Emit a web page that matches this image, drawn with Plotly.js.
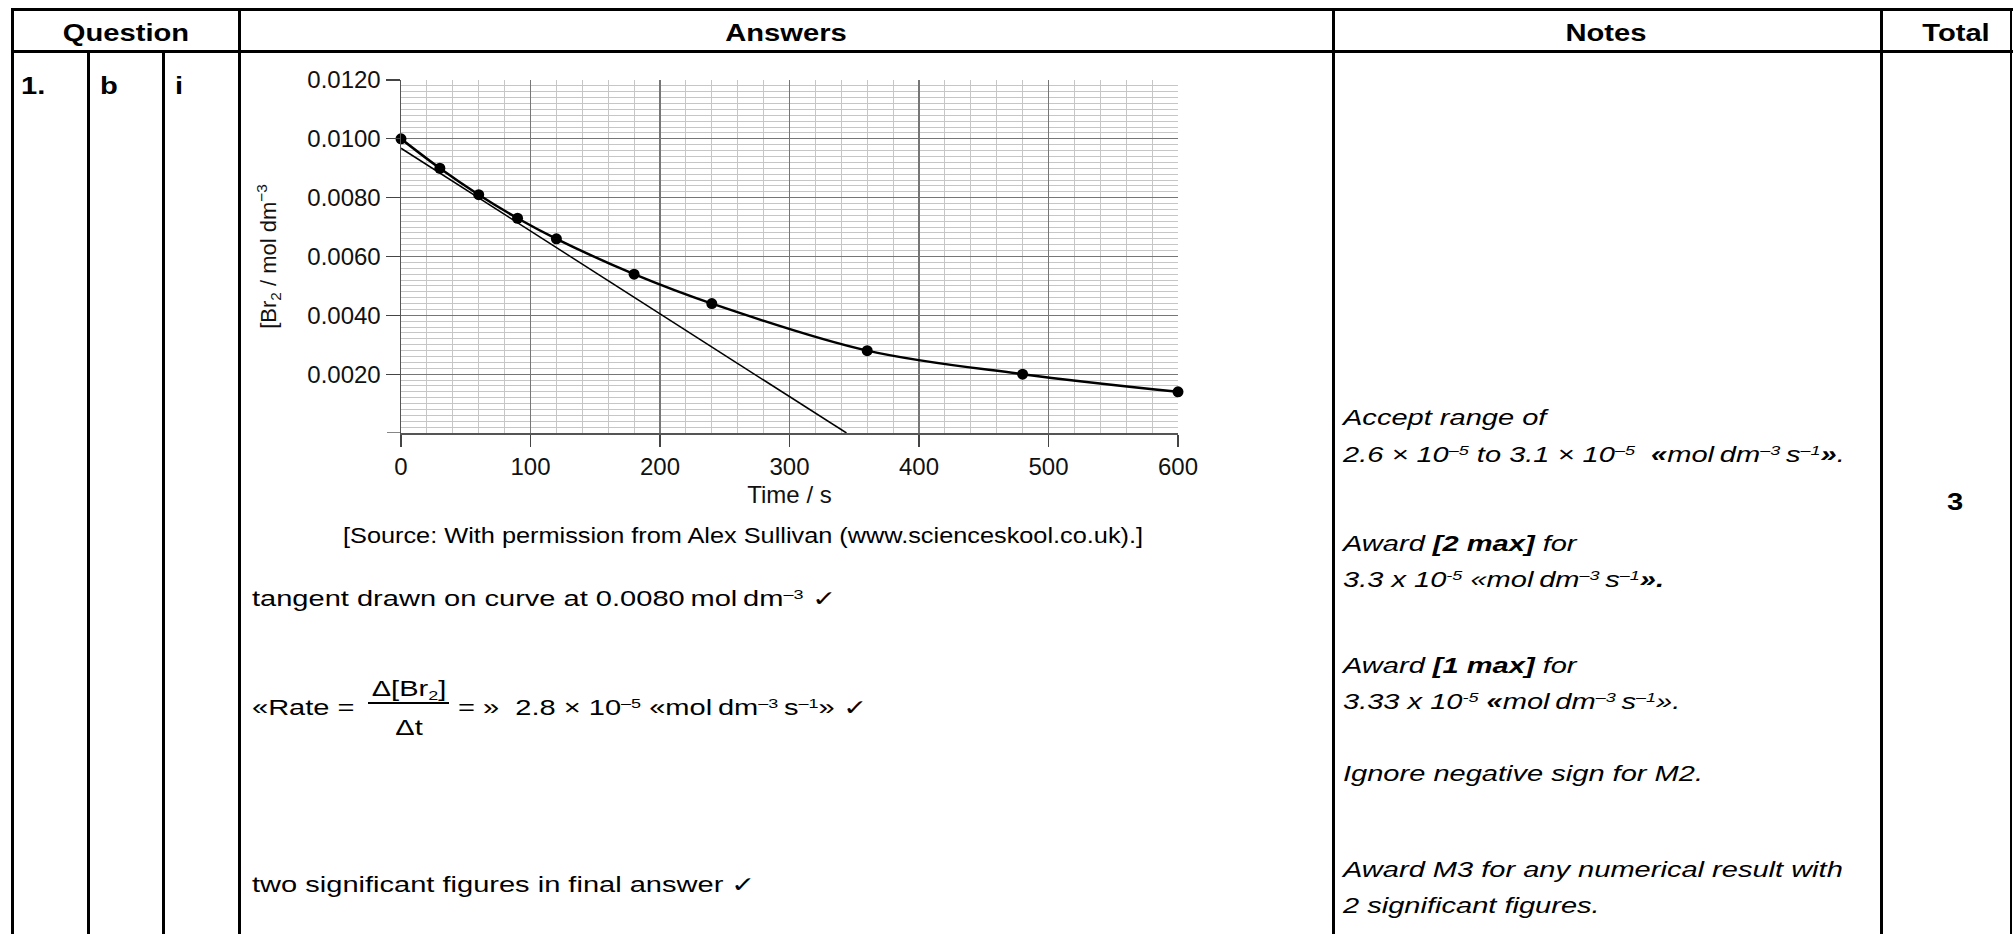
<!DOCTYPE html>
<html>
<head>
<meta charset="utf-8">
<script src="https://cdn.plot.ly/plotly-3.0.1.min.js"></script>
<style>
html,body{margin:0;padding:0;background:#fff;}
#page{position:relative;width:2013px;height:934px;overflow:hidden;background:#fff;font-family:"Liberation Sans",Arial,Helvetica,sans-serif;color:#000;}
.ln{position:absolute;background:#000;}
.t{position:absolute;white-space:nowrap;}
.t sup{font-size:0.62em;line-height:0;position:relative;top:-0.55em;vertical-align:baseline;}
.t sub{font-size:0.62em;line-height:0;position:relative;top:0.3em;vertical-align:baseline;}
#chart{position:absolute;left:241px;top:53px;width:1092px;height:500px;}
</style>
</head>
<body><div id="page"><div id="chart"></div></div><script>
// ---- chart data ----
const timeS = [0, 30, 60, 90, 120, 180, 240, 360, 480, 600];
const br2Conc = [0.0100, 0.0090, 0.0081, 0.0073, 0.0066, 0.0054, 0.0044, 0.0028, 0.0020, 0.0014];
const tangentTime = [0, 344];
const tangentConc = [0.00968, 0];
const xTickVals = [0, 100, 200, 300, 400, 500, 600];
const xTickText = ['0', '100', '200', '300', '400', '500', '600'];
const yTickVals = [0.002, 0.004, 0.006, 0.008, 0.010, 0.012];
const yTickText = ['0.0020', '0.0040', '0.0060', '0.0080', '0.0100', '0.0120'];
const yAxisMin = 0, yAxisMax = 0.012;
const xAxisMin = 0, xAxisMax = 600;

const page = document.getElementById('page');

// ---- table rules ----
function rule(left, top, w, h) {
  const d = document.createElement('div');
  d.className = 'ln';
  d.style.left = left + 'px'; d.style.top = top + 'px';
  d.style.width = w + 'px'; d.style.height = h + 'px';
  page.insertBefore(d, page.firstChild);
}
const LW = 2.7;
rule(11, 8.3, 2002, LW);          // top border
rule(11, 50.3, 2002, LW);         // header bottom
rule(11, 8.3, LW, 926);           // left border
rule(87.3, 50.3, LW, 884);
rule(162.3, 50.3, LW, 884);
rule(238, 8.3, LW, 926);
rule(1332, 8.3, LW, 926);
rule(1880.3, 8.3, LW, 926);
rule(2009.5, 8.3, LW, 926);       // right border

// ---- text helper ----
function put(html, x, base, o) {
  o = o || {};
  const size = o.size || 22;
  const sx = o.sx || 1.32;
  const d = document.createElement('div');
  d.className = 't';
  d.innerHTML = html;
  d.style.fontSize = size + 'px';
  d.style.lineHeight = size + 'px';
  d.style.top = (base - 0.8465 * size) + 'px';
  d.style.left = x + 'px';
  if (o.bold) d.style.fontWeight = 'bold';
  if (o.italic) d.style.fontStyle = 'italic';
  if (o.center) {
    d.style.transformOrigin = '50% 50%';
    d.style.transform = 'translateX(-50%) scaleX(' + sx + ')';
  } else {
    d.style.transformOrigin = '0 50%';
    d.style.transform = 'scaleX(' + sx + ')';
  }
  page.appendChild(d);
  return d;
}

const HB = {bold: true, center: true, size: 23.5, sx: 1.24};
// headers
put('Question', 125.5, 41.5, HB);
put('Answers', 786, 41.5, HB);
put('Notes', 1606, 41.5, HB);
put('Total', 1955.5, 41.5, HB);
// question ids
put('1.', 20.7, 94.5, {bold: true, size: 23.5, sx: 1.24});
put('b', 100, 94.5, {bold: true, size: 23.5, sx: 1.24});
put('i', 175, 94.5, {bold: true, size: 23.5, sx: 1.24});
// total
put('3', 1955, 511, HB);

// answers
put('[Source: With permission from Alex Sullivan (www.scienceskool.co.uk).]', 343, 543.5, {size: 22, sx: 1.15});
put('tangent drawn on curve at 0.0080&thinsp;mol&thinsp;dm<sup>–3</sup> ✓', 252, 607);
put('«Rate =', 252, 716);
put('Δ[Br<sub>2</sub>]', 408.5, 697, {center: true});
rule(368, 702, 81, 1.5);
put('Δt', 409, 736, {center: true});
put('= »&nbsp; 2.8 × 10<sup>–5</sup> «mol&thinsp;dm<sup>–3</sup>&thinsp;s<sup>–1</sup>» ✓', 458, 716);
put('two significant figures in final answer ✓', 252, 893);

// notes
const NX = 1343;
put('Accept range of', NX, 426, {italic: true});
put('2.6 × 10<sup>–5</sup> to 3.1 × 10<sup>–5</sup>&nbsp; <b>«</b>mol&thinsp;dm<sup>–3</sup>&thinsp;s<sup>–1</sup><b>»</b>.', NX, 463, {italic: true});
put('Award <b>[2 max]</b> for', NX, 552, {italic: true});
put('3.3 x 10<sup>-5</sup> «mol&thinsp;dm<sup>–3</sup>&thinsp;s<sup>–1</sup><b>».</b>', NX, 588, {italic: true});
put('Award <b>[1 max]</b> for', NX, 674, {italic: true});
put('3.33 x 10<sup>-5</sup> <b>«</b>mol&thinsp;dm<sup>–3</sup>&thinsp;s<sup>–1</sup>».', NX, 710, {italic: true});
put('Ignore negative sign for M2.', NX, 782, {italic: true});
put('Award M3 for any numerical result with', NX, 878, {italic: true});
put('2 significant figures.', NX, 914, {italic: true});

// ---- chart ----
const FONT = '"Liberation Sans", Arial, Helvetica, sans-serif';
const traces = [
  {
    x: tangentTime, y: tangentConc, mode: 'lines', type: 'scatter',
    line: {color: '#000', width: 1.5}, hoverinfo: 'skip'
  },
  {
    x: timeS, y: br2Conc, mode: 'lines+markers', type: 'scatter',
    line: {color: '#000', width: 2.5, shape: 'spline', smoothing: 1},
    marker: {color: '#000', size: 11},
    cliponaxis: false
  }
];
const layout = {
  width: 1092, height: 500,
  margin: {l: 160, r: 155, t: 27, b: 120, pad: 0},
  paper_bgcolor: 'rgba(0,0,0,0)',
  plot_bgcolor: 'rgba(0,0,0,0)',
  showlegend: false,
  font: {family: FONT, size: 24, color: '#111'},
  xaxis: {
    range: [xAxisMin, xAxisMax], tickmode: 'array', tickvals: xTickVals, ticktext: xTickText,
    ticks: 'outside', ticklen: 12, tickwidth: 1.3, tickcolor: '#444',
    showline: true, linecolor: '#555', linewidth: 1.5,
    showgrid: true, gridcolor: '#767676', gridwidth: 1.2, zeroline: false,
    minor: {tickmode: 'linear', tick0: 0, dtick: 20, showgrid: true, gridcolor: '#c6c6c6', gridwidth: 1, ticks: ''},
    tickfont: {family: FONT, size: 24, color: '#111'},
    title: {text: 'Time / s', font: {family: FONT, size: 24, color: '#111'}, standoff: 7},
    automargin: false, fixedrange: true
  },
  yaxis: {
    range: [yAxisMin, yAxisMax], tickmode: 'array', tickvals: yTickVals, ticktext: yTickText,
    ticks: 'outside', ticklen: 14, tickwidth: 1.3, tickcolor: '#444',
    showline: true, linecolor: '#555', linewidth: 1.5,
    showgrid: true, gridcolor: '#767676', gridwidth: 1.2, zeroline: false,
    minor: {tickmode: 'linear', tick0: 0, dtick: 0.0002, showgrid: true, gridcolor: '#c6c6c6', gridwidth: 1, ticks: ''},
    tickfont: {family: FONT, size: 24, color: '#111'},
    title: {text: '[Br<sub>2</sub> / mol dm<sup>−3</sup>', font: {family: FONT, size: 22, color: '#111'}, standoff: 24},
    automargin: false, fixedrange: true
  },
  shapes: [
    // unlabeled tick mark at the y-axis origin
    {type: 'line', xref: 'x domain', yref: 'y', x0: -14 / 777, x1: 0, y0: yAxisMin, y1: yAxisMin,
     line: {color: '#444', width: 1.3}, layer: 'above'}
  ]
};
Plotly.newPlot('chart', traces, layout, {staticPlot: true, displayModeBar: false});
</script></body>
</html>
